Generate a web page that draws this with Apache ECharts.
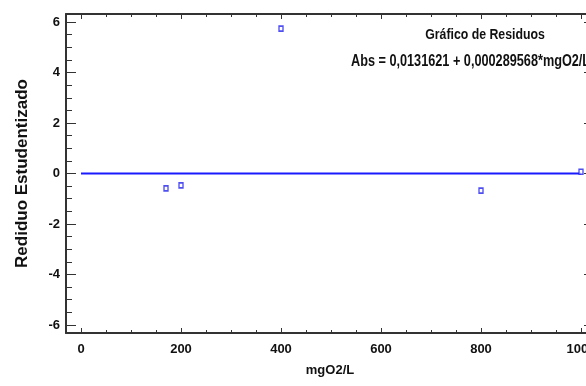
<!DOCTYPE html>
<html><head><meta charset="utf-8">
<script src="https://cdn.jsdelivr.net/npm/echarts@6/dist/echarts.min.js"></script>
<style>html,body{margin:0;padding:0;background:#fff}#c{width:586px;height:386px}</style>
</head><body><div id="c"></div>
<script>
const residX = [170, 200, 400, 800, 1000];
const residY = [-0.59, -0.47, 5.74, -0.68, 0.07];
const zeroLineX = [0, 1000];
const zeroLineY = [0, 0];
const xTickLabels = [0, 200, 400, 600, 800, 1000];
const xMinorTicks = [50, 100, 150, 250, 300, 350, 450, 500, 550, 650, 700, 750, 850, 900, 950];
const yTickLabels = [-6, -4, -2, 0, 2, 4, 6];
const yMinorTicks = [-5.5, -5, -4.5, -3.5, -3, -2.5, -1.5, -1, -0.5, 0.5, 1, 1.5, 2.5, 3, 3.5, 4.5, 5, 5.5];
const titleText = 'Gráfico de Residuos';
const subtitleText = 'Abs = 0,0131621 + 0,000289568*mgO2/L';
const xName = 'mgO2/L';
const yName = 'Rediduo Estudentizado';

const FONT = 'Liberation Sans';
const axisCol = '#333';
const XMIN = -30, XMAX = 1026, YMIN = -6.32, YMAX = 6.32;

function xAx(pos, vals, len, main) {
  return {
    type: 'value', position: pos, min: XMIN, max: XMAX,
    splitLine: { show: false },
    axisLine: { show: main, onZero: false, lineStyle: { color: axisCol, width: 2 } },
    axisTick: { show: true, inside: true, length: len, customValues: vals, lineStyle: { color: axisCol, width: 1 } },
    axisLabel: main && pos === 'bottom' ? { show: true, customValues: xTickLabels, formatter: v => String(v), margin: 10, color: '#111', fontFamily: FONT, fontWeight: 'bold', fontSize: 13 } : { show: false },
    name: main && pos === 'bottom' ? xName : '',
    nameLocation: 'middle', nameGap: 31,
    nameTextStyle: { color: '#111', fontFamily: FONT, fontWeight: 'bold', fontSize: 13 }
  };
}
function yAx(pos, vals, len, main) {
  return {
    type: 'value', position: pos, min: YMIN, max: YMAX,
    splitLine: { show: false },
    axisLine: { show: main, onZero: false, lineStyle: { color: axisCol, width: 2 } },
    axisTick: { show: true, inside: true, length: len, customValues: vals, lineStyle: { color: axisCol, width: 1 } },
    axisLabel: main && pos === 'left' ? { show: true, customValues: yTickLabels, formatter: v => String(v), margin: 6, color: '#111', fontFamily: FONT, fontWeight: 'bold', fontSize: 13 } : { show: false },
    name: main && pos === 'left' ? yName : '',
    nameLocation: 'middle', nameGap: 35,
    nameTextStyle: { color: '#111', fontFamily: FONT, fontWeight: 'bold', fontSize: 17 }
  };
}

const chart = echarts.init(document.getElementById('c'), null, { renderer: 'canvas' });
chart.setOption({
  animation: false,
  backgroundColor: '#fff',
  grid: { left: 66, top: 14, right: -8, bottom: 53, containLabel: false, outerBoundsMode: 'none' },
  xAxis: [
    xAx('bottom', xTickLabels, 5, true),
    xAx('bottom', xMinorTicks, 3, false),
    xAx('top', xTickLabels, 5, true),
    xAx('top', xMinorTicks, 3, false)
  ],
  yAxis: [
    yAx('left', yTickLabels, 10, true),
    yAx('left', yMinorTicks, 6, false),
    yAx('right', yTickLabels, 10, true),
    yAx('right', yMinorTicks, 6, false)
  ],
  graphic: [
    { type: 'text', x: 485, y: 35, scaleY: 1.25, style: { text: titleText, align: 'center', verticalAlign: 'middle', fill: '#111', font: 'bold 12.3px "' + FONT + '"' } },
    { type: 'text', x: 351, y: 62, scaleY: 1.25, style: { text: subtitleText, align: 'left', verticalAlign: 'middle', fill: '#111', font: 'bold 12.7px "' + FONT + '"' } }
  ],
  series: [
    {
      type: 'line', xAxisIndex: 0, yAxisIndex: 0,
      data: zeroLineX.map((x, i) => [x, zeroLineY[i]]),
      symbol: 'none', lineStyle: { color: '#1a1aff', width: 2 }, z: 2, silent: true
    },
    {
      type: 'scatter', xAxisIndex: 0, yAxisIndex: 0,
      data: residX.map((x, i) => [x, residY[i]]),
      symbol: 'rect', symbolSize: [4, 5],
      itemStyle: { color: '#fff', borderColor: '#2222ee', borderWidth: 1.5 }, z: 3
    }
  ]
});
</script></body></html>
